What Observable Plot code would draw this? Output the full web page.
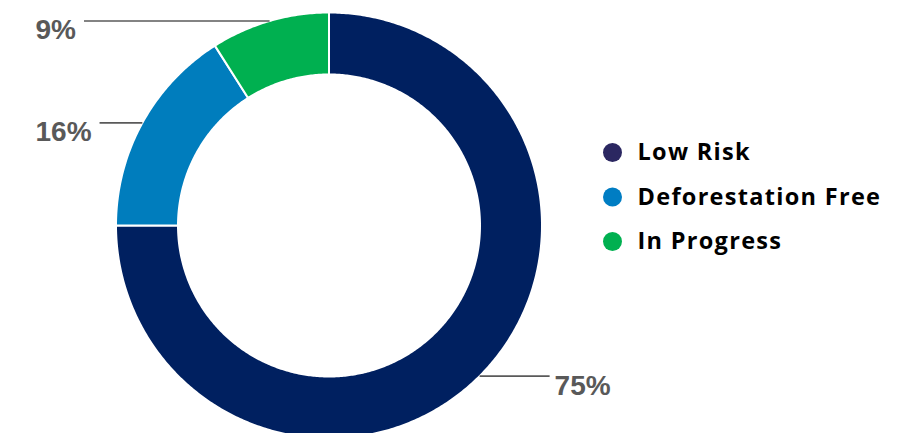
<!DOCTYPE html>
<html>
<head>
<meta charset="utf-8">
<script src="https://cdn.jsdelivr.net/npm/d3@7"></script>
<script src="https://cdn.jsdelivr.net/npm/@observablehq/plot@0.6"></script>
<style>
  html, body { margin: 0; padding: 0; background: #fff; }
  #chart svg { display: block; }
</style>
</head>
<body>
<div id="chart"></div>
<script>
// ---- data ----
const categories = ["Low Risk", "Deforestation Free", "In Progress"];
const values = [75, 16, 9];
const labels = ["75%", "16%", "9%"];

// ---- styling / layout ----
const sliceColors = ["#002060", "#007DBD", "#00B050"];
const legendColors = ["#2B2761", "#007DC3", "#00B050"];
const W = 911, H = 433;
const cx = 328.5, cy = 225, R = 213, innerFrac = 151 / 213;
const labelFont = "bold 28px 'Liberation Sans', Arial, sans-serif";
const legendFontFamily = "'Open Sans', sans-serif";

// pixel <-> data helpers (data units: radius = 1)
const xd = px => (px - cx) / R;
const yd = py => (cy - py) / R;

// ---- slices ----
const pie = d3.pie().sort(null).value(d => d.value)
  .startAngle(0).endAngle(2 * Math.PI);
const rows = categories.map((c, i) => ({category: c, value: values[i], label: labels[i], i}));
const arcs = pie(rows);

const polyPts = [];
arcs.forEach(a => {
  const n = Math.max(8, Math.ceil((a.endAngle - a.startAngle) / 0.01));
  for (let k = 0; k <= n; k++) {
    const t = a.startAngle + (a.endAngle - a.startAngle) * k / n;
    polyPts.push({category: a.data.category, x: Math.sin(t), y: Math.cos(t)});
  }
  for (let k = n; k >= 0; k--) {
    const t = a.startAngle + (a.endAngle - a.startAngle) * k / n;
    polyPts.push({category: a.data.category, x: innerFrac * Math.sin(t), y: innerFrac * Math.cos(t)});
  }
  const t0 = a.startAngle;
  polyPts.push({category: a.data.category, x: Math.sin(t0), y: Math.cos(t0)});
});

// ---- leader lines & labels ----
const canvas = document.createElement("canvas");
const ctx = canvas.getContext("2d");
ctx.font = labelFont;
const leftTextX = 35, gapPx = 8, rightLineLen = 70, rightGap = 5;

const leaders = arcs.map(a => {
  const m = (a.startAngle + a.endAngle) / 2;
  const ax = Math.sin(m), ay = Math.cos(m);
  const apx = cx + ax * R, apy = cy - ay * R;
  let endPx, textPx;
  if (ax < 0) {
    const w = ctx.measureText(a.data.label).width;
    endPx = leftTextX + w + gapPx;
    textPx = leftTextX;
  } else {
    endPx = apx + rightLineLen;
    textPx = endPx + rightGap;
  }
  return {label: a.data.label, x1: ax, y1: ay, x2: xd(endPx), y2: ay, tx: xd(textPx), ty: yd(apy - 1.5)};
});

// ---- legend ----
const legendDotX = 612, legendTextX = 637, legendY0 = 152, legendStep = 44.5;
const legendRows = categories.map((c, i) => ({
  category: c, color: legendColors[i],
  x: xd(legendDotX), tx: xd(legendTextX), y: yd(legendY0 + i * legendStep)
}));

const chart = Plot.plot({
  width: W, height: H,
  margin: 0,
  x: {domain: [-1, 1], range: [cx - R, cx + R], axis: null},
  y: {domain: [-1, 1], range: [cy + R, cy - R], axis: null},
  color: {domain: categories, range: sliceColors},
  marks: [
    Plot.line(polyPts, {x: "x", y: "y", z: "category", fill: "category", stroke: "#fff", strokeWidth: 2, curve: "linear"}),
    Plot.link(leaders, {x1: "x1", y1: "y1", x2: "x2", y2: "y2", stroke: "#5a5a5a", strokeWidth: 1.6}),
    Plot.text(leaders, {x: "tx", y: "ty", text: "label", textAnchor: "start", lineAnchor: "top",
      fill: "#595959", fontSize: 28, fontWeight: "bold", fontFamily: "'Liberation Sans', Arial, sans-serif"}),
    Plot.dot(legendRows, {x: "x", y: "y", r: 9.5, fill: d => d.color, stroke: null}),
    Plot.text(legendRows, {x: "tx", y: "y", text: "category", textAnchor: "start", lineAnchor: "middle",
      fill: "#000", fontSize: 23.5, fontWeight: "bold", fontFamily: legendFontFamily})
  ]
});
const textGroups = chart.querySelectorAll('g[aria-label="text"]');
const legendGroup = textGroups[textGroups.length - 1];
if (legendGroup) legendGroup.querySelectorAll("text").forEach(t => t.setAttribute("letter-spacing", "1.3px"));
document.getElementById("chart").appendChild(chart);
</script>
</body>
</html>
